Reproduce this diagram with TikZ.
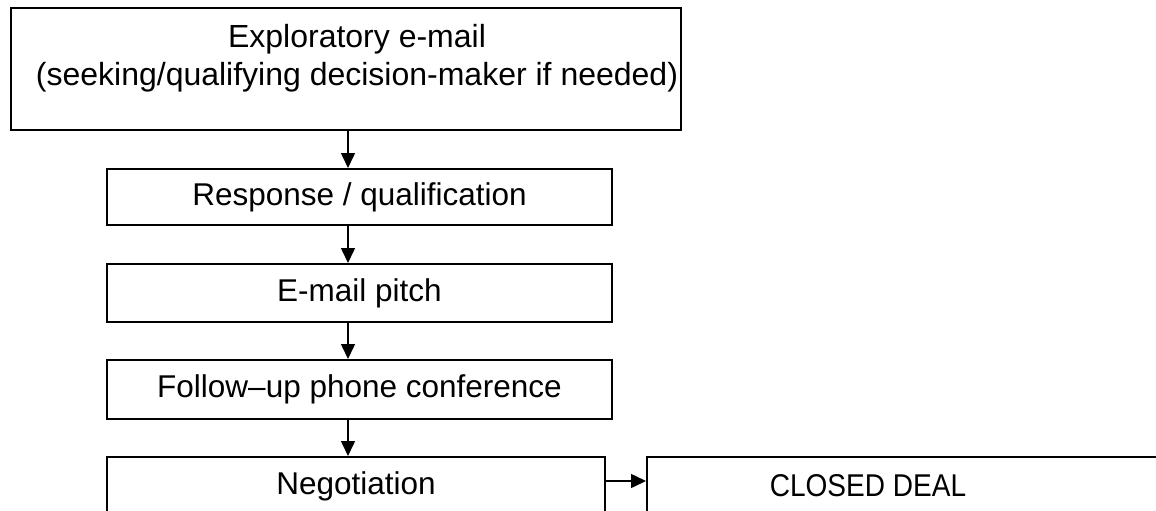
\documentclass[tikz,border=0pt]{standalone}
\usepackage{fontspec}
\setmainfont{Liberation Sans}
\newfontfamily\narrowfont[FakeStretch=0.89]{Liberation Sans}
\usetikzlibrary{arrows.meta}
\begin{document}
\begin{tikzpicture}[x=1pt,y=-1pt,
  box/.style={draw, line width=2pt, inner sep=0pt, anchor=north west, font=\fontsize{31.5}{38}\selectfont},
  lbl/.style={font=\fontsize{32}{38}\selectfont, align=center, inner sep=0pt},
  arr/.style={-{Triangle[length=15pt,width=14pt]}, line width=1.5pt}]
\useasboundingbox (0,0) rectangle (1156,511);
\clip (0,0) rectangle (1156,511);
\node[box, minimum width=670pt, minimum height=122pt] (explore) at (10,7) {};
\node[lbl, anchor=base] (exploretext) at (357,85) {Exploratory e-mail\\(seeking/qualifying decision-maker if needed)};
\node[box, minimum width=505pt, minimum height=56pt] (resp) at (106,168) {Response / qualification};
\node[box, minimum width=505pt, minimum height=58pt] (pitch) at (106,263) {E-mail pitch};
\node[box, minimum width=505pt, minimum height=59pt] (phone) at (106,359) {Follow\textendash up phone conference};
\node[box, minimum width=498pt, minimum height=58pt] (neg) at (106,456) {Negotiation};
\node[box, minimum width=560pt, minimum height=58pt] (closed) at (646,456) {\hspace*{-118pt}\narrowfont CLOSED DEAL};
\draw[arr] ([xshift=2pt]explore.south) -- ([xshift=-11.5pt]resp.north);
\draw[arr] ([xshift=-11.5pt]resp.south) -- ([xshift=-11.5pt]pitch.north);
\draw[arr] ([xshift=-11.5pt]pitch.south) -- ([xshift=-11.5pt]phone.north);
\draw[arr] ([xshift=-11.5pt]phone.south) -- ([xshift=-8pt]neg.north);
\draw[arr] ([yshift=5pt]neg.east) -- ([yshift=5pt]closed.west);
\end{tikzpicture}
\end{document}
